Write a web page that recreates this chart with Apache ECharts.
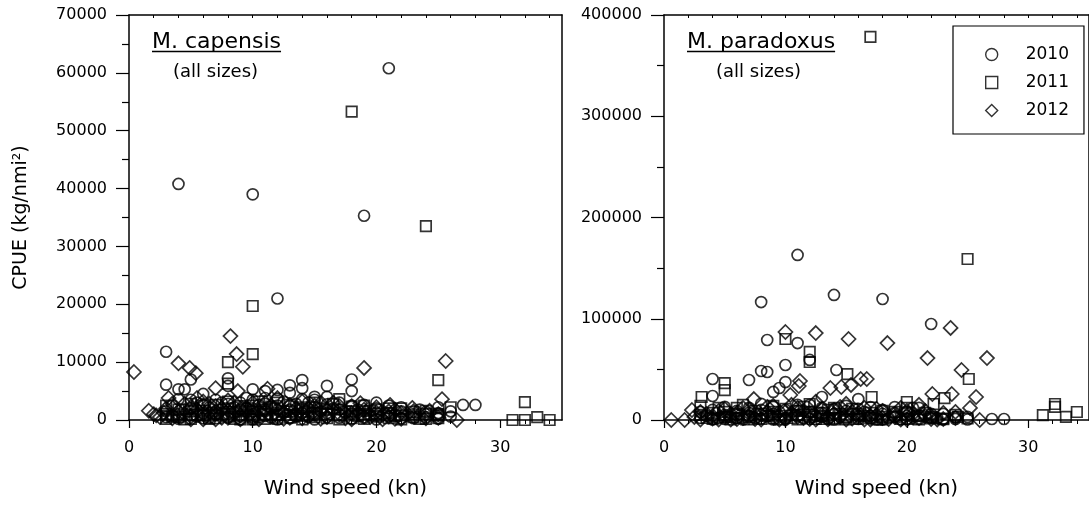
<!DOCTYPE html>
<html><head><meta charset="utf-8">
<script src="https://cdn.jsdelivr.net/npm/echarts@6/dist/echarts.min.js"></script>
<style>html,body{margin:0;padding:0;background:#fff}#c{width:1089px;height:513px}</style>
</head><body><div id="c"></div>
<script>
// ---------- data: [wind speed (kn), CPUE (kg/nmi²)] ----------
const years = ['2010', '2011', '2012'];
const panelTitles = ['M. capensis', 'M. paradoxus'];
const panelSubtitle = '(all sizes)';
const xTitle = 'Wind speed (kn)';
const yTitle = 'CPUE (kg/nmi²)';
const xMajorTicks = [0, 10, 20, 30];
const xMinorTicks = [2, 4, 6, 8, 12, 14, 16, 18, 22, 24, 26, 28, 32, 34];
const xTopTicks = [2, 4, 6, 8, 10, 12, 14, 16, 18, 20, 22, 24, 26, 28, 30, 32, 34];

const capensis2010 = [
  [4,40800],[10,39000],[21,60800],[19,35300],[12,21000],[3,11800],[3,6100],[4,5300],[4.5,5300],[5,7000],
  [8,7200],[8,5900],[6,4500],[4,3600],[10,5300],[11,5000],[12,5200],[13,6000],[13,4700],[14,6900],
  [14,5500],[15,4000],[16,5900],[16,4000],[18,7000],[18,5000],[27,2600],[28,2600],
  [3,1500],[3,500],[3.5,2500],[4,1000],[4,200],[5,2000],[5,800],[5.5,3000],[6,1200],[6,300],[6.5,2200],
  [7,3500],[7,900],[7.5,1800],[8,2800],[8,400],[8.5,1300],[9,3000],[9,600],[9.5,2000],[10,3500],[10,1000],
  [10,100],[10.5,2600],[11,1500],[11,3800],[11.5,400],[12,2500],[12,900],[12.5,3200],[13,1800],[13,300],
  [13.5,2800],[14,1200],[14,3600],[14.5,600],[15,2200],[15,100],[15.5,1500],[16,2700],[16,500],[17,1800],
  [17,3000],[18,1000],[18,2500],[19,1500],[19,400],[20,2000],[20,800],[21,2500],[21,1200],[22,1500],
  [22,300],[23,1000],[24,500],[25,1200],[25,200],[26,600],
  [3.5,800],[4.5,1800],[5,3500],[5.5,600],[6,2600],[6.5,400],[7,1500],[7.5,3000],[8,1100],[8.5,2200],
  [9,100],[9,1800],[9.5,3800],[10,2000],[10.5,500],[11,2800],[11,700],[11.5,2000],[12,100],[12,3700],
  [12.5,1200],[13,2400],[13.5,600],[14,2000],[14.5,3000],[15,800],[15,3500],[16,1200],[16.5,2000],[17,400],
  [17.5,1200],[18,200],[18.5,1800],[19,2600],[19.5,900],[20,100],[20,3000],[21,600],[22,2200],[23,300],
  [23.5,1800],[24,1400],[25,2200],[26,1500]
];
const capensis2011 = [
  [18,53300],[24,33500],[10,19700],[10,11400],[8,10000],[8,6300],[17,3600],[25,6900],[32,3100],[31,0],
  [32,0],[33,500],[34,0],[26,2200],
  [3,200],[3,1000],[4,500],[5,1500],[5,200],[6,2500],[6,800],[7,1200],[7,300],[8,2000],[8,600],[9,1500],
  [9,100],[10,2500],[10,600],[11,1800],[11,200],[12,3000],[12,900],[13,1500],[13,400],[14,2200],[14,700],
  [15,1200],[15,3000],[16,300],[16,1800],[17,800],[18,1500],[18,300],[19,1000],[19,2500],[20,600],[20,1800],
  [21,1200],[21,300],[22,800],[22,2000],[23,500],[24,1000],[24,200],[25,800],[25,300],
  [3,2500],[3.5,600],[4,1800],[4.5,100],[5,2800],[5.5,900],[6,1600],[6.5,200],[7,2600],[7.5,1000],
  [8,3200],[8.5,200],[9,2400],[9.5,900],[10,1500],[10,100],[10.5,3200],[11,1000],[11.5,2300],[12,200],
  [12.5,1500],[13,2600],[13.5,900],[14,100],[14.5,1500],[15,500],[15.5,2000],[16,1000],[16.5,2800],[17,100],
  [17.5,1500],[18,2300],[18.5,700],[19,200],[19.5,1600],[20,1100],[21,2000],[21.5,700],[22,100],[23,1400],
  [23.5,200],[24,1600],[25,1000]
];
const capensis2012 = [
  [8.2,14500],[8.7,11400],[9.2,9200],[0.4,8300],[4,9800],[4.9,9000],[5.4,8100],[7,5500],[1.6,1600],[2,1000],
  [3.2,3800],[11.2,5400],[8.8,5000],[19,9000],[25.6,10200],[25.3,3600],[18.7,2900],[22.9,2100],[24.3,1600],
  [26.5,0],[21.1,2600],
  [2.5,500],[3,2000],[3.5,300],[4,1500],[4.5,2800],[5,600],[5.5,1800],[6,3200],[6,100],[6.5,1200],[7,2400],
  [7.5,400],[8,1600],[8.5,3000],[9,800],[9.5,2200],[10,400],[10.5,1400],[11,3000],[11.5,700],[12,1800],
  [12.5,200],[13,2600],[13.5,1000],[14,300],[14.5,2000],[15,1100],[15.5,3000],[16,500],[16.5,1600],[17,2400],
  [17.5,300],[18,1200],[19,1800],[19.5,500],[20,2200],[20.5,900],[21,1500],[21.5,200],[22,1200],[23,600],
  [24,1000],[25,400],
  [2.2,800],[2.8,1300],[3.5,2800],[4,600],[4.5,1000],[5,2200],[5,100],[5.5,3800],[6,1000],[6.5,2800],
  [7,100],[7,1000],[7.5,2000],[8,400],[8,3400],[8.5,1000],[9,2000],[9,100],[9.5,1300],[10,3000],[10,1500],
  [10.5,100],[11,1800],[11.5,2500],[12,600],[12,3800],[12.5,1300],[13,400],[13.5,2000],[14,1200],[14,3200],
  [14.5,600],[15,2500],[15.5,200],[16,1800],[16.5,3000],[17,1000],[18,2400],[18,100],[18.5,1300],[19,600],
  [20,1300],[20.5,100],[21,600],[21.5,1800],[22,200],[22.5,1000],[23,1500],[24,300],[25,1000]
];
const paradoxus2010 = [
  [11,163000],[8,116500],[14,123500],[18,119500],[22,94800],[8.5,79000],[11,76000],[10,54300],[8,48400],
  [8.5,47400],[7,39500],[4,40500],[4,23700],[10,37500],[12,59300],[14.2,49400],[9,27700],[9.5,31600],
  [13,22700],[16,20700],[19,12800],[17,12800],[27,1000],[28,1000],[25,3000],
  [3,2000],[3,8000],[4,500],[5,5000],[5,1000],[6,9000],[6,2000],[7,4000],[7,12000],[8,1500],[8,16000],
  [9,6000],[9,500],[10,10000],[10,2000],[11,15000],[11,4000],[12,8000],[12,1000],[13,12000],[13,3000],
  [14,6000],[14,500],[15,9000],[15,2000],[16,4000],[16,11000],[17,1500],[18,6000],[18,500],[19,3000],
  [20,8000],[20,1000],[21,4000],[21,12000],[22,2000],[23,6000],[24,1000],[25,500],
  [3.5,4000],[4,10000],[4.5,2000],[5,13000],[5.5,3000],[6,5000],[6.5,500],[7,7000],[7.5,2000],[8,10000],
  [8.5,4000],[9,13000],[9.5,8000],[10,500],[10.5,5000],[11,9000],[11.5,1500],[12,15000],[12.5,4000],[13,7000],
  [13.5,1000],[14,11000],[14.5,3000],[15,14000],[15.5,6000],[16,1000],[16.5,8000],[17,4000],[17.5,500],
  [18,10000],[18.5,2000],[19,7000],[19.5,500],[20,4000],[20.5,12000],[21,1000],[22,6000],[22.5,2000],
  [23,500],[24,3000]
];
const paradoxus2011 = [
  [17,378300],[25,159000],[10,80000],[12,67200],[12,57300],[15.1,45400],[5,36500],[5,29600],[3.1,22700],
  [17.1,22700],[12,15800],[25.1,40500],[20,17800],[23.1,21700],[22.2,15800],[24.2,3000],[31.2,4900],
  [32.2,15800],[32.2,13000],[33.1,3000],[34,7900],
  [3,5000],[3,14000],[4,1000],[5,8000],[6,2000],[6,12000],[7,500],[8,6000],[9,14000],[9,1500],[10,4000],
  [11,9000],[11,500],[12,3000],[13,7000],[13,1000],[14,12000],[14,2000],[15,500],[16,6000],[17,2000],
  [18,9000],[18,500],[19,3000],[20,6000],[20,1000],[21,4000],[22,1500],[23,800],[24,5000],[25,1500],
  [3.5,2000],[4,7000],[4.5,12000],[5,3000],[5.5,500],[6,6000],[6.5,15000],[7,3000],[7.5,9000],[8,1000],
  [8.5,4000],[9,8000],[9.5,500],[10,11000],[10.5,2000],[11,5000],[11.5,13000],[12,8000],[12.5,1000],
  [13,4000],[13.5,10000],[14,500],[14.5,6000],[15,3000],[15.5,11000],[16,1000],[16.5,4000],[17,7000],
  [17.5,500],[18,3000],[19,8000],[19.5,1000],[20,12000],[21,500],[21.5,7000],[22,3000],[23,1500]
];
const paradoxus2012 = [
  [10,86900],[12.5,85900],[15.2,80000],[11.2,38500],[11.1,33600],[13.7,31600],[14.6,32600],[16.2,40500],
  [15.4,34600],[7.4,20700],[0.6,0],[1.7,0],[2.3,9900],[10.4,24700],[18.4,76000],[23.6,90900],[21.7,61200],
  [24.5,49400],[26.6,61200],[25.7,22700],[23.7,25700],[22.1,25700],[16.7,40500],[25.2,11900],[23,1000],
  [2.5,3000],[3,500],[3.5,6000],[4,1500],[4.5,9000],[5,3000],[5.5,500],[6,7000],[6.5,2000],[7,10000],
  [7.5,1000],[8,5000],[8.5,13000],[9,2500],[9.5,500],[10,8000],[10.5,15000],[11,3000],[11.5,9000],[12,1000],
  [12.5,18000],[13,5000],[13.5,600],[14,10000],[14.5,3000],[15,16000],[15.5,1500],[16,7000],[16.5,500],
  [17,4000],[17.5,11000],[18,2000],[19,6000],[19.5,500],[20,9000],[20.5,2500],[21,15000],[21.5,4000],
  [22,1000],[23,7000],[24,2000],[26,0],
  [3,8000],[4,4000],[4.5,500],[5,11000],[5.5,6000],[6,1000],[6.5,12000],[7,3000],[7.5,6000],[8,500],
  [8.5,8000],[9,14000],[9.5,4000],[10,1000],[10.5,7000],[11,12000],[11.5,2000],[12,6000],[12.5,500],
  [13,11000],[13.5,3000],[14,6000],[14.5,13000],[15,500],[15.5,8000],[16,3000],[16.5,12000],[17,500],
  [17.5,5000],[18,9000],[18.5,1000],[19,3000],[19.5,12000],[20,500],[20.5,6000],[21,2000],[21.5,9000],
  [22,4000],[22.5,500],[24,8000]
];

// ---------- layout / style ----------
const FONT = 'DejaVu Sans';
const PLOT_TOP = 15, PLOT_H = 405, PLOT_W = 433;
const GRID_LEFTS = [129, 664];
const Y_MAX = [70000, 400000], Y_INT = [10000, 100000];
const symbols = ['circle', 'rect', 'diamond'];
const symbolSizes = [11, 10.5, 14];
const panelData = [[capensis2010, capensis2011, capensis2012], [paradoxus2010, paradoxus2011, paradoxus2012]];

const chart = echarts.init(document.getElementById('c'), null, { renderer: 'canvas' });
const black = '#000';

// grids 0,1: main panels; grids 2,3: overlays (same rect) carrying the minor bottom ticks
const grid = GRID_LEFTS.concat(GRID_LEFTS).map(l => ({ left: l, top: PLOT_TOP, width: PLOT_W, height: PLOT_H }));
const xAxis = [], yAxis = [], series = [];
GRID_LEFTS.forEach((_, g) => {
  xAxis.push({
    gridIndex: g, type: 'value', min: 0, max: 35, position: 'bottom',
    axisLine: { onZero: false, lineStyle: { color: black, width: 1.5 } },
    axisTick: { customValues: xMajorTicks, length: 8, lineStyle: { color: black, width: 1.2 } },
    axisLabel: { customValues: xMajorTicks, margin: 20, color: black, fontFamily: FONT, fontSize: 16 },
    splitLine: { show: false },
    name: xTitle, nameLocation: 'middle', nameGap: 59,
    nameTextStyle: { color: black, fontFamily: FONT, fontSize: 20 }
  });
  xAxis.push({
    gridIndex: g, type: 'value', min: 0, max: 35, position: 'top',
    axisLine: { onZero: false, lineStyle: { color: black, width: 1.5 } },
    axisTick: { customValues: xTopTicks, inside: true, length: 3, lineStyle: { color: black, width: 1 } },
    axisLabel: { show: false }, splitLine: { show: false }
  });
  yAxis.push({
    gridIndex: g, type: 'value', min: 0, max: Y_MAX[g], interval: Y_INT[g], position: 'left',
    axisLine: { onZero: false, lineStyle: { color: black, width: 1.5 } },
    axisTick: { length: 13, lineStyle: { color: black, width: 1.2 } },
    minorTick: { show: true, splitNumber: 2, length: 7, lineStyle: { color: black, width: 1.2 } },
    axisLabel: { margin: 22, color: black, fontFamily: FONT, fontSize: 16, formatter: v => String(v) },
    splitLine: { show: false }, minorSplitLine: { show: false },
    name: g === 0 ? yTitle : '', nameLocation: 'middle', nameGap: 98, nameRotate: 90,
    nameTextStyle: { color: black, fontFamily: FONT, fontSize: 19 }
  });
  yAxis.push({
    gridIndex: g, type: 'value', min: 0, max: Y_MAX[g], position: 'right',
    axisLine: { onZero: false, lineStyle: { color: black, width: 1.5 } },
    axisTick: { show: false }, axisLabel: { show: false }, splitLine: { show: false }
  });
  years.forEach((yr, s) => {
    series.push({
      type: 'scatter', name: yr, xAxisIndex: g * 2, yAxisIndex: g * 2,
      data: panelData[g][s], symbol: symbols[s], symbolSize: symbolSizes[s],
      itemStyle: { color: 'rgba(0,0,0,0)', borderColor: black, borderWidth: 1.7 },
      emphasis: { disabled: true }, silent: true, clip: false
    });
  });
});
// overlay grids: minor ticks on the bottom axis
GRID_LEFTS.forEach((_, g) => {
  xAxis.push({
    gridIndex: 2 + g, type: 'value', min: 0, max: 35, position: 'bottom',
    axisLine: { show: false },
    axisTick: { customValues: xMinorTicks, length: 4, lineStyle: { color: black, width: 1 } },
    axisLabel: { show: false }, splitLine: { show: false }
  });
  yAxis.push({ gridIndex: 2 + g, type: 'value', min: 0, max: Y_MAX[g], show: false });
});

// titles with underline
const measure = (txt, font) => {
  const ctx = document.createElement('canvas').getContext('2d');
  ctx.font = font; return ctx.measureText(txt).width;
};
const titleFont = '22px "' + FONT + '"';
const subFont = '18px "' + FONT + '"';
const graphic = [];
GRID_LEFTS.forEach((l, g) => {
  const tx = l + 23;
  const w = measure(panelTitles[g], titleFont);
  graphic.push({ type: 'text', x: tx, y: 42, style: { text: panelTitles[g], font: titleFont, fill: black, textVerticalAlign: 'middle' }, silent: true });
  graphic.push({ type: 'line', shape: { x1: tx, y1: 51.5, x2: tx + w, y2: 51.5 }, style: { stroke: black, lineWidth: 1.5 }, silent: true });
  graphic.push({ type: 'text', x: tx + 21 + (g === 1 ? 8 : 0), y: 72, style: { text: panelSubtitle, font: subFont, fill: black, textVerticalAlign: 'middle' }, silent: true });
});

chart.setOption({
  animation: false,
  backgroundColor: '#fff',
  grid, xAxis, yAxis, series, graphic,
  legend: {
    data: years, orient: 'vertical', left: 953, top: 26,
    padding: [20, 15, 15, 32], itemGap: 11, itemWidth: 12, itemHeight: 12,
    borderColor: black, borderWidth: 1.2, backgroundColor: '#fff',
    textStyle: { color: black, fontFamily: FONT, fontSize: 17, padding: [0, 0, 0, 23] },
    selectedMode: false,
    itemStyle: { color: 'rgba(0,0,0,0)', borderColor: black, borderWidth: 1.4 }
  }
});
</script></body></html>
